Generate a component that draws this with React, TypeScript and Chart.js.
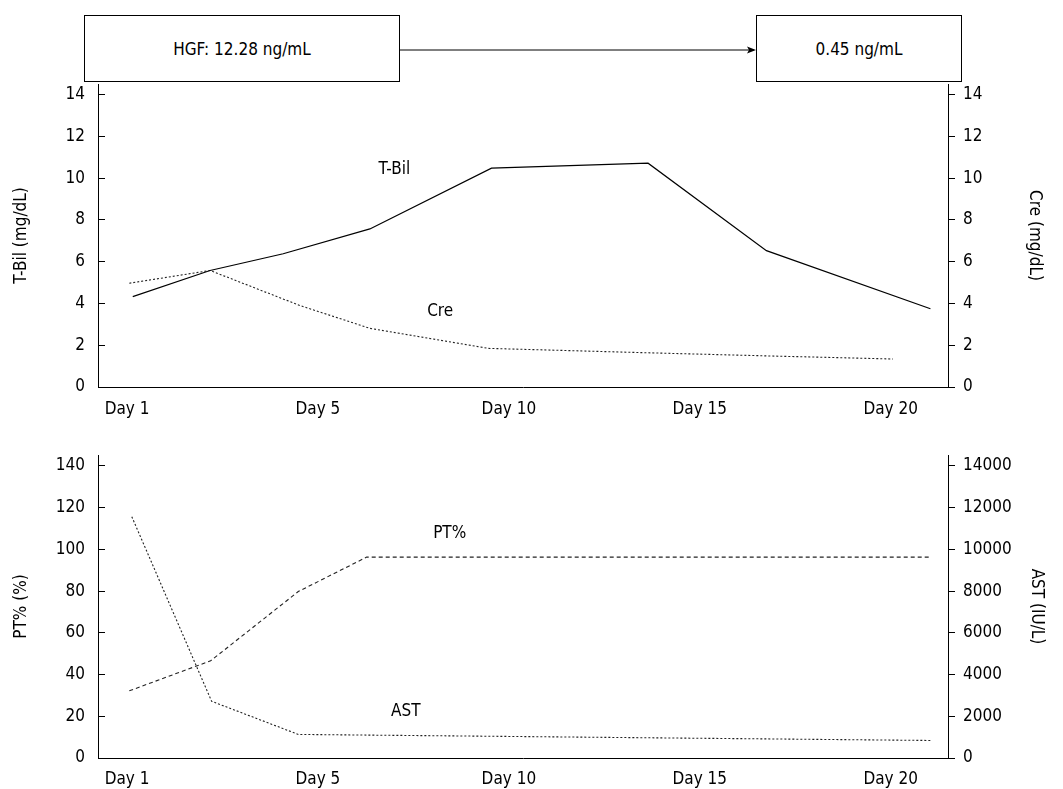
import React, { useEffect, useRef } from "react";
import { Chart, registerables } from "chart.js";
Chart.register(...registerables);

// X tick positions (tick units) and labels
const dayTicks = [0, 1, 2, 3, 4];
const dayLabels = ["Day 1", "Day 5", "Day 10", "Day 15", "Day 20"];

// Top panel
const tbilX = [0.03, 0.435, 0.818, 1.272, 1.909, 2.729, 3.349, 4.208];
const tbilY = [4.33, 5.58, 6.38, 7.57, 10.48, 10.72, 6.53, 3.75];
const creX = [0.012, 0.435, 0.906, 1.272, 1.892, 2.721, 3.349, 4.012];
const creY = [4.97, 5.58, 3.9, 2.81, 1.85, 1.64, 1.49, 1.34];
const topTicks = [0, 2, 4, 6, 8, 10, 12, 14];

// Bottom panel
const ptX = [0.012, 0.438, 0.897, 1.255, 4.204];
const ptY = [32.2, 46.6, 79.8, 96.3, 96.3];
const astX = [0.025, 0.443, 0.897, 4.213];
const astY = [11570, 2720, 1130, 840];
const ptTicks = [0, 20, 40, 60, 80, 100, 120, 140];
const astTicks = [0, 2000, 4000, 6000, 8000, 10000, 12000, 14000];

const FONT = "'DejaVu Sans Condensed', 'DejaVu Sans', Verdana, sans-serif";
const FS = 17;

const toPts = (xs: number[], ys: number[]) => xs.map((x, i) => ({ x, y: ys[i] }));

const seriesLabelPlugin = (labels: { text: string; x: number; y: number; axis: string }[]) => ({
  id: "seriesLabels",
  afterDatasetsDraw(chart: any) {
    const ctx = chart.ctx;
    ctx.save();
    ctx.font = `${FS}px ${FONT}`;
    ctx.fillStyle = "#000";
    ctx.textAlign = "center";
    ctx.textBaseline = "middle";
    labels.forEach((l) => {
      const px = chart.scales.x.getPixelForValue(l.x);
      const py = chart.scales[l.axis].getPixelForValue(l.y);
      ctx.fillText(l.text, px, py);
    });
    ctx.restore();
  },
});

function xScale(height: number, padding: number) {
  return {
    type: "linear",
    position: "bottom",
    min: -0.152,
    max: 4.3,
    afterBuildTicks: (s: any) => {
      s.ticks = dayTicks.map((v) => ({ value: v }));
    },
    afterFit: (s: any) => {
      s.height = height;
    },
    ticks: {
      autoSkip: false,
      maxRotation: 0,
      padding,
      color: "#000",
      font: { family: FONT, size: FS },
      callback: (v: number) => dayLabels[dayTicks.indexOf(v)] ?? "",
    },
    grid: { drawOnChartArea: false, drawTicks: false },
    border: { display: true, color: "#000", width: 1 },
  };
}

function yScale(pos: string, max: number, ticks: number[], title: string, width: number, titlePad: number) {
  const left = pos === "left";
  return {
    type: "linear",
    position: pos,
    min: 0,
    max,
    afterBuildTicks: (s: any) => {
      s.ticks = ticks.map((v) => ({ value: v }));
    },
    afterFit: (s: any) => {
      s.width = width;
    },
    ticks: {
      padding: left ? 20 : 8,
      color: "#000",
      font: { family: FONT, size: FS },
      callback: (v: number) => String(v),
    },
    grid: { drawOnChartArea: false, drawTicks: true, tickLength: left ? -7 : 7, color: "#000" },
    border: { display: true, color: "#000", width: 1 },
    title: {
      display: true,
      text: title,
      color: "#000",
      font: { family: FONT, size: FS },
      padding: { top: titlePad, bottom: 0 },
    },
  };
}

function TopChart() {
  const ref = useRef<HTMLCanvasElement>(null);
  useEffect(() => {
    const chart = new Chart(ref.current as HTMLCanvasElement, {
      type: "line",
      data: {
        datasets: [
          {
            label: "T-Bil",
            data: toPts(tbilX, tbilY),
            borderColor: "#000",
            borderWidth: 1.2,
            pointRadius: 0,
            yAxisID: "y",
          },
          {
            label: "Cre",
            data: toPts(creX, creY),
            borderColor: "#222",
            borderWidth: 1.1,
            borderDash: [2, 2],
            pointRadius: 0,
            yAxisID: "y1",
          },
        ],
      },
      options: {
        animation: false,
        responsive: false,
        devicePixelRatio: 1,
        layout: { padding: { top: 40, left: 0, right: 0, bottom: 0 } },
        plugins: { legend: { display: false }, tooltip: { enabled: false } },
        scales: {
          x: xScale(38, 12),
          y: yScale("left", 14.51, topTicks, "T-Bil (mg/dL)", 98, 11),
          y1: yScale("right", 14.51, topTicks, "Cre (mg/dL)", 115, 18),
        } as any,
      },
      plugins: [
        seriesLabelPlugin([
          { text: "T-Bil", x: 1.4, y: 10.4, axis: "y" },
          { text: "Cre", x: 1.64, y: 3.6, axis: "y1" },
        ]),
      ],
    } as any);
    return () => chart.destroy();
  }, []);
  return <canvas ref={ref} width={1063} height={381} style={{ position: "absolute", left: 0, top: 44, width: 1063, height: 381 }} />;
}

function BottomChart() {
  const ref = useRef<HTMLCanvasElement>(null);
  useEffect(() => {
    const chart = new Chart(ref.current as HTMLCanvasElement, {
      type: "line",
      data: {
        datasets: [
          {
            label: "PT%",
            data: toPts(ptX, ptY),
            borderColor: "#222",
            borderWidth: 1.1,
            borderDash: [4, 3],
            pointRadius: 0,
            yAxisID: "y",
          },
          {
            label: "AST",
            data: toPts(astX, astY),
            borderColor: "#222",
            borderWidth: 1.1,
            borderDash: [2, 2],
            pointRadius: 0,
            yAxisID: "y1",
          },
        ],
      },
      options: {
        animation: false,
        responsive: false,
        devicePixelRatio: 1,
        layout: { padding: { top: 40, left: 0, right: 0, bottom: 0 } },
        plugins: { legend: { display: false }, tooltip: { enabled: false } },
        scales: {
          x: xScale(31, 11),
          y: yScale("left", 145.26, ptTicks, "PT% (%)", 98, 11),
          y1: yScale("right", 14526, astTicks, "AST (IU/L)", 115, 16),
        } as any,
      },
      plugins: [
        seriesLabelPlugin([
          { text: "PT%", x: 1.69, y: 107.5, axis: "y" },
          { text: "AST", x: 1.46, y: 22.4, axis: "y" },
        ]),
      ],
    } as any);
    return () => chart.destroy();
  }, []);
  return <canvas ref={ref} width={1063} height={374} style={{ position: "absolute", left: 0, top: 415, width: 1063, height: 374 }} />;
}

const boxStyle: React.CSSProperties = {
  position: "absolute",
  top: 15,
  height: 67,
  border: "1px solid #000",
  boxSizing: "border-box",
  display: "flex",
  alignItems: "center",
  justifyContent: "center",
  fontFamily: FONT,
  fontSize: FS,
  color: "#000",
  background: "#fff",
};

export default function App() {
  return (
    <div style={{ position: "absolute", left: 0, top: 0, width: 1063, height: 789, background: "#fff", overflow: "hidden" }}>
      <div style={{ ...boxStyle, left: 84, width: 316 }}>HGF: 12.28 ng/mL</div>
      <div style={{ ...boxStyle, left: 756, width: 206 }}>0.45 ng/mL</div>
      <svg width={1063} height={100} style={{ position: "absolute", left: 0, top: 0 }}>
        <line x1={400} y1={50} x2={754} y2={50} stroke="#000" strokeWidth={1} />
        <polygon points="756,50 747,46.5 749,50 747,53.5" fill="#000" />
      </svg>
      <TopChart />
      <BottomChart />
    </div>
  );
}
